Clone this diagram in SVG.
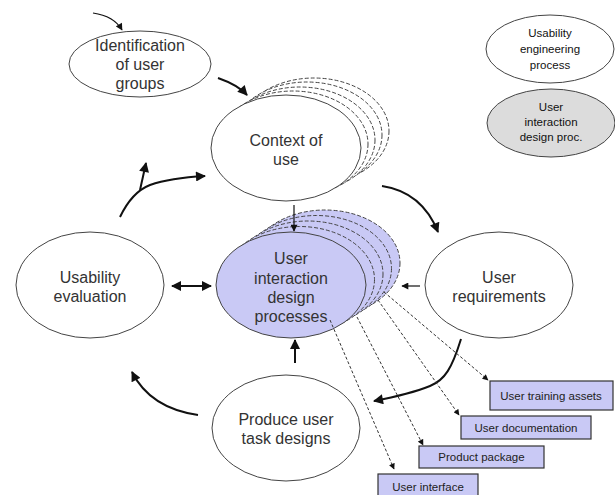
<svg xmlns="http://www.w3.org/2000/svg" width="615" height="495" viewBox="0 0 615 495">
<defs>
<style>
.node{fill:#fff;stroke:#444;stroke-width:1}
.blue{fill:#c9c9f5;stroke:#444;stroke-width:1}
.dash{stroke:#444;stroke-width:1;stroke-dasharray:4,2}
.t{font-family:"Liberation Sans",Arial,sans-serif;fill:#333;text-anchor:middle}
.big{font-size:16px}
.leg{font-size:11.5px;fill:#111}
.box{fill:#c9c9f5;stroke:#333;stroke-width:1.2}
.bt{font-size:11.5px;fill:#222}
.arr{fill:none;stroke:#111;stroke-width:2}
.thin{fill:none;stroke:#111;stroke-width:1.2}
.dl{fill:none;stroke:#333;stroke-width:1;stroke-dasharray:3,2}
</style>
<marker id="ah" viewBox="0 0 10 10" refX="9" refY="5" markerWidth="11" markerHeight="10" markerUnits="userSpaceOnUse" orient="auto"><path d="M0,0 L10,5 L0,10 z" fill="#111"/></marker>
<marker id="ahs" viewBox="0 0 10 10" refX="9" refY="5" markerWidth="8" markerHeight="7" markerUnits="userSpaceOnUse" orient="auto"><path d="M0,0 L10,5 L0,10 z" fill="#111"/></marker>
<marker id="ahst" viewBox="0 0 10 10" refX="1" refY="5" markerWidth="11" markerHeight="10" markerUnits="userSpaceOnUse" orient="auto"><path d="M10,0 L0,5 L10,10 z" fill="#111"/></marker>
<marker id="ahd" viewBox="0 0 10 10" refX="9" refY="5" markerWidth="7" markerHeight="6" markerUnits="userSpaceOnUse" orient="auto"><path d="M0,0 L10,5 L0,10 z" fill="#111"/></marker>
</defs>
<rect width="615" height="495" fill="#fff"/>

<g id="identification">
<ellipse class="node" cx="140" cy="64" rx="71" ry="33"/>
<text class="t big" x="140" y="51">Identification</text>
<text class="t big" x="140" y="70">of user</text>
<text class="t big" x="140" y="89">groups</text>
</g>

<g id="context">
<ellipse class="node dash" cx="314" cy="131" rx="75" ry="53"/>
<ellipse class="node dash" cx="307" cy="135" rx="75" ry="53"/>
<ellipse class="node dash" cx="300" cy="140" rx="75" ry="53"/>
<ellipse class="node dash" cx="293" cy="144" rx="75" ry="53"/>
<ellipse class="node" cx="286" cy="148" rx="75" ry="53"/>
<text class="t big" x="286" y="146">Context of</text>
<text class="t big" x="286" y="165">use</text>
</g>

<g id="uid">
<ellipse class="blue dash" cx="325" cy="263" rx="75" ry="53"/>
<ellipse class="blue dash" cx="316.5" cy="268.5" rx="75" ry="53"/>
<ellipse class="blue dash" cx="308" cy="274" rx="75" ry="53"/>
<ellipse class="blue dash" cx="299.5" cy="279.5" rx="75" ry="53"/>
<ellipse class="blue" cx="291" cy="285" rx="75" ry="53"/>
<text class="t big" x="291" y="264">User</text>
<text class="t big" x="291" y="284">interaction</text>
<text class="t big" x="291" y="303">design</text>
<text class="t big" x="291" y="322">processes</text>
</g>

<g id="usability-evaluation">
<ellipse class="node" cx="90" cy="285" rx="74" ry="53"/>
<text class="t big" x="90" y="283">Usability</text>
<text class="t big" x="90" y="302">evaluation</text>
</g>

<g id="user-requirements">
<ellipse class="node" cx="499" cy="285" rx="74" ry="53"/>
<text class="t big" x="499" y="283">User</text>
<text class="t big" x="499" y="302">requirements</text>
</g>

<g id="produce">
<ellipse class="node" cx="286" cy="428" rx="74" ry="53"/>
<text class="t big" x="286" y="425">Produce user</text>
<text class="t big" x="286" y="444">task designs</text>
</g>

<g id="legend-usability">
<ellipse class="node" cx="550" cy="49" rx="64" ry="34"/>
<text class="t leg" x="550" y="37">Usability</text>
<text class="t leg" x="550" y="53">engineering</text>
<text class="t leg" x="550" y="69">process</text>
</g>

<g id="legend-uid">
<ellipse cx="551" cy="123" rx="64" ry="34" fill="#dcdcdc" stroke="#444" stroke-width="1"/>
<text class="t leg" x="551" y="111">User</text>
<text class="t leg" x="551" y="126">interaction</text>
<text class="t leg" x="551" y="141">design proc.</text>
</g>

<g id="box-training">
<rect class="box" x="490" y="381" width="123" height="29"/>
<text class="t bt" x="551" y="400">User training assets</text>
</g>
<g id="box-documentation">
<rect class="box" x="461" y="416" width="130" height="23"/>
<text class="t bt" x="526" y="432">User documentation</text>
</g>
<g id="box-package">
<rect class="box" x="419" y="446" width="125" height="22"/>
<text class="t bt" x="481.5" y="461">Product package</text>
</g>
<g id="box-interface">
<rect class="box" x="378" y="474" width="100" height="24"/>
<text class="t bt" x="428" y="491">User interface</text>
</g>

<g id="connectors">
<path class="thin" d="M93,13 Q114,16 122,30" marker-end="url(#ahs)"/>
<path class="arr" d="M218,78 Q238,85 247,95" marker-end="url(#ah)"/>
<path class="arr" d="M382,186 Q422,192 438,232" marker-end="url(#ah)"/>
<path class="thin" d="M294,205 L294,231" marker-end="url(#ahs)"/>
<path class="thin" d="M420,286 L402,286" marker-end="url(#ahs)"/>
<path class="arr" d="M172,286 L211,286" marker-start="url(#ahst)" marker-end="url(#ah)"/>
<path class="arr" d="M295,363 L295,340" marker-end="url(#ah)"/>
<path class="arr" d="M198,415 Q150,408 132,372" marker-end="url(#ah)"/>
<path class="arr" d="M120,217 Q132,192 150,185 Q170,178 205,176" marker-end="url(#ah)"/>
<path class="arr" d="M140,190 L146,163" marker-end="url(#ah)"/>
<path class="arr" d="M461,339 C452,368 445,380 430,386 Q410,394 374,401" marker-end="url(#ah)"/>
<path class="dl" d="M384,292 L488,380" marker-end="url(#ahd)"/>
<path class="dl" d="M378,300 L459,415" marker-end="url(#ahd)"/>
<path class="dl" d="M357,317 L423,445" marker-end="url(#ahd)"/>
<path class="dl" d="M330,320 L394,469" marker-end="url(#ahd)"/>
</g>
</svg>
